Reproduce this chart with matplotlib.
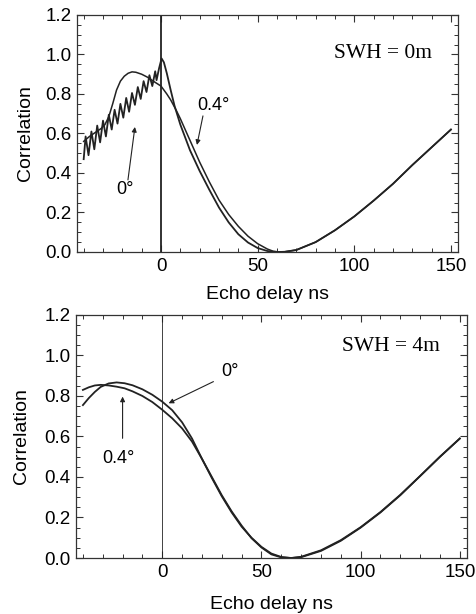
import matplotlib
matplotlib.use('Agg')
import matplotlib.pyplot as plt
from matplotlib.ticker import MultipleLocator

# Data (echo delay in ns, correlation)
tail_x = [70, 80, 90, 100, 110, 120, 130, 140, 150]

# SWH = 0m, 0 deg (oscillating, then sharp peak at 0)
top_0_x = [-40, -39, -37.5, -36, -34.5, -33, -31.5, -30, -28.5, -27, -25.5, -24,
           -22.5, -21, -19.5, -18, -16.5, -15, -13.5, -12, -10.5, -9, -7.5, -6,
           -4.5, -3, -2.3, -1, 0.3, 1.5, 3, 5, 7, 10, 15, 20, 25, 30, 35, 40,
           45, 50, 55, 58, 61, 64] + tail_x
top_0_y = [0.47, 0.585, 0.49, 0.61, 0.52, 0.64, 0.555, 0.665, 0.585, 0.695, 0.62, 0.72,
           0.65, 0.75, 0.68, 0.78, 0.71, 0.805, 0.745, 0.835, 0.775, 0.865, 0.81, 0.895,
           0.84, 0.915, 0.87, 0.93, 0.98, 0.96, 0.905, 0.82, 0.74, 0.645, 0.515, 0.41,
           0.315, 0.225, 0.15, 0.09, 0.048, 0.02, 0.005, 0.001, 0.0, 0.001,
           0.01, 0.05, 0.11, 0.18, 0.26, 0.345, 0.44, 0.53, 0.62]

# SWH = 0m, 0.4 deg (smooth)
top_04_x = [-40, -37, -34, -31, -29, -27, -25, -23, -21, -19, -17, -15, -13, -10,
            -7, -4, 0, 3, 5, 8, 10, 15, 20, 25, 30, 35, 40, 45, 50, 55, 58, 61,
            64] + tail_x
top_04_y = [0.56, 0.585, 0.605, 0.625, 0.645, 0.685, 0.75, 0.82, 0.865, 0.89, 0.905,
            0.912, 0.91, 0.9, 0.885, 0.865, 0.84, 0.8, 0.77, 0.715, 0.675, 0.565,
            0.455, 0.355, 0.263, 0.19, 0.13, 0.08, 0.042, 0.015, 0.004, 0.0, 0.001,
            0.01, 0.05, 0.11, 0.18, 0.26, 0.345, 0.44, 0.53, 0.62]

# SWH = 4m
bot_x = [-40, -37, -34, -31, -27, -23, -19, -15, -10, -5, 0, 5, 10, 15, 20, 25,
         30, 35, 40, 45, 50, 55, 60, 65, 70, 80, 90, 100, 110, 120, 130, 140, 150]
bot_0_y = [0.755, 0.79, 0.82, 0.845, 0.862, 0.867, 0.863, 0.853, 0.833, 0.806, 0.772,
           0.73, 0.67, 0.59, 0.49, 0.395, 0.305, 0.225, 0.155, 0.1, 0.055, 0.022,
           0.005, 0.0, 0.004, 0.035, 0.085, 0.15, 0.225, 0.31, 0.405, 0.5, 0.59]
bot_04_y = [0.83, 0.843, 0.852, 0.855, 0.852, 0.846, 0.838, 0.823, 0.8, 0.77, 0.732,
            0.69, 0.64, 0.575, 0.49, 0.4, 0.31, 0.23, 0.16, 0.098, 0.052, 0.018,
            0.003, 0.0, 0.006, 0.038, 0.088, 0.152, 0.227, 0.312, 0.405, 0.5, 0.59]

sans = 'Liberation Sans'
serif = 'Liberation Serif'
lc = '#222222'

fig = plt.figure(figsize=(4.76, 6.14), dpi=100)
ax1 = fig.add_axes([0.162, 0.5896, 0.800, 0.386])
ax2 = fig.add_axes([0.160, 0.0912, 0.821, 0.3958])

for ax, xpad, ypad in ((ax1, 8, 8), (ax2, 11, 10)):
    ax.set_xlim(-43.4, 153.6)
    ax.set_ylim(0, 1.2)
    ax.xaxis.set_major_locator(MultipleLocator(50))
    ax.xaxis.set_minor_locator(MultipleLocator(10))
    ax.yaxis.set_major_locator(MultipleLocator(0.2))
    ax.yaxis.set_minor_locator(MultipleLocator(0.05))
    ax.yaxis.set_major_formatter(plt.FormatStrFormatter('%.1f'))
    ax.tick_params(which='both', direction='in', top=True, right=True, color='#333333')
    ax.tick_params(which='major', length=5, width=0.8, labelsize=13.5, pad=4)
    ax.tick_params(which='minor', length=3, width=0.7)
    for lab in ax.get_xticklabels() + ax.get_yticklabels():
        lab.set_family(sans)
    for s in ax.spines.values():
        s.set_linewidth(0.9)
        s.set_color('#333333')
    ax.set_xlabel('Echo delay ns', family=sans, fontsize=14, labelpad=xpad)
    ax.set_ylabel('Correlation', family=sans, fontsize=14, labelpad=ypad)

arrow = dict(arrowstyle='-|>', color=lc, lw=0.8, mutation_scale=7, shrinkA=0, shrinkB=0)

# top panel
ax1.axvline(0, color=lc, lw=1.3)
ax1.plot(top_0_x, top_0_y, color=lc, lw=1.3)
ax1.plot(top_04_x, top_04_y, color=lc, lw=1.1)
ax1.text(114.8, 1.007, 'SWH = 0m', family=serif, fontsize=15.5, ha='center', va='center')
ax1.text(26.9, 0.744, '0.4°', family=sans, fontsize=13, ha='center', va='center')
ax1.annotate('', xy=(18.6, 0.542), xytext=(21.7, 0.689), arrowprops=arrow)
ax1.text(-18.6, 0.314, '0°', family=sans, fontsize=13, ha='center', va='center')
ax1.annotate('', xy=(-13.5, 0.633), xytext=(-17.1, 0.365), arrowprops=arrow)

# bottom panel
ax2.axvline(0, color=lc, lw=0.6)
ax2.plot(bot_x, bot_0_y, color=lc, lw=1.3)
ax2.plot(bot_x, bot_04_y, color=lc, lw=1.3)
ax2.text(115.2, 1.043, 'SWH = 4m', family=serif, fontsize=15.5, ha='center', va='center')
ax2.text(34.2, 0.92, '0°', family=sans, fontsize=13, ha='center', va='center')
ax2.annotate('', xy=(3.2, 0.764), xytext=(25.8, 0.871), arrowprops=arrow)
ax2.text(-22, 0.492, '0.4°', family=sans, fontsize=13, ha='center', va='center')
ax2.annotate('', xy=(-20, 0.797), xytext=(-20, 0.591), arrowprops=arrow)

fig.savefig('out.png', dpi=100)
